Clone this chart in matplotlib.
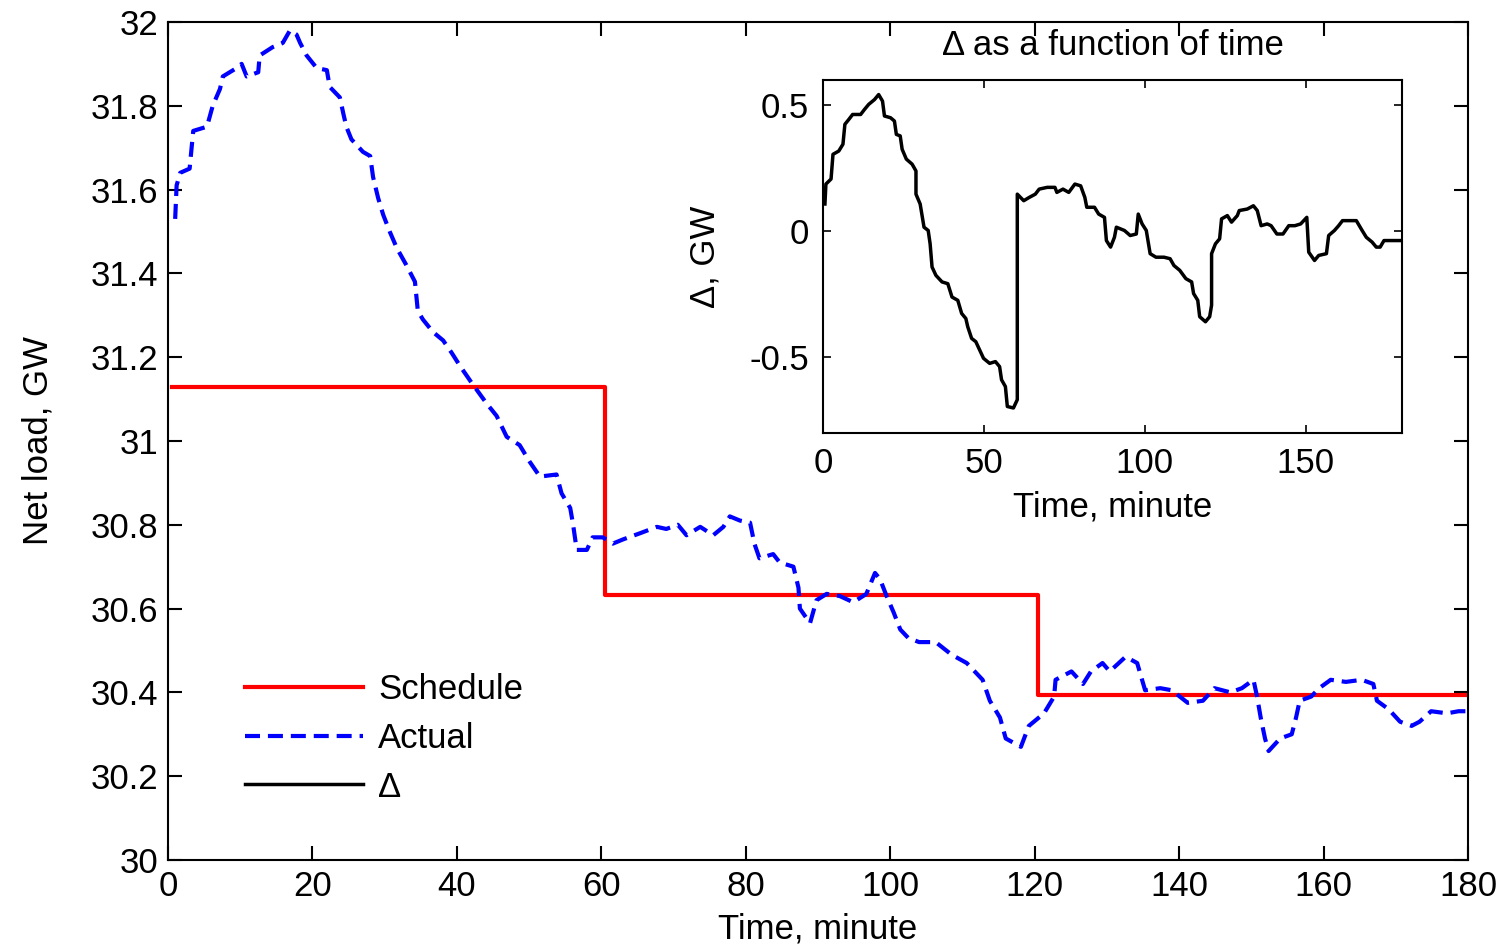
import matplotlib.pyplot as plt
from matplotlib.ticker import FormatStrFormatter

plt.rcParams['font.family'] = ['Liberation Sans', 'DejaVu Sans']

# Actual net load (GW)
t_actual = [1.0, 1.2, 1.7, 3.0, 3.5, 5.4, 6.2, 7.2, 7.6, 9.5, 10.2, 10.9, 12.5, 12.7,
            14.5, 15.9, 16.9, 17.8, 18.3, 19.2, 20.6, 22.0, 22.4, 23.8, 24.3, 24.7,
            25.4, 27.0, 28.0, 28.4, 29.1, 29.8, 30.7, 31.7, 33.0, 34.2, 34.6, 35.3,
            36.7, 38.1, 39.3, 40.4, 42.0, 44.1, 45.5, 46.9, 48.7, 50.1, 51.5, 53.8,
            54.5, 55.7, 56.1, 56.6, 58.0, 58.8, 60.2, 61.6, 63.0, 65.4, 67.7, 69.0,
            70.6, 71.8, 73.7, 75.5, 76.9, 77.8, 79.2, 80.6, 81.2, 81.9, 83.8, 84.7,
            86.6, 87.3, 87.5, 88.9, 89.8, 91.2, 93.0, 94.9, 96.7, 97.9, 98.6, 99.5,
            100.5, 101.4, 102.5, 104.0, 106.3, 108.5, 110.6, 112.8, 113.8, 115.2,
            116.0, 118.1, 119.2, 121.3, 122.7, 122.9, 125.1, 126.7, 127.8, 129.4,
            130.4, 132.6, 134.2, 135.3, 137.4, 139.0, 141.2, 143.3, 144.9, 147.1,
            148.7, 150.3, 150.8, 151.3, 151.9, 152.4, 154.0, 155.6, 156.2, 156.7,
            158.3, 159.4, 161.0, 163.1, 165.3, 166.9, 167.4, 169.0, 170.6, 172.2,
            173.3, 174.9, 177.1, 178.7, 180.0]
actual = [31.53, 31.61, 31.64, 31.65, 31.74, 31.75, 31.80, 31.84, 31.87, 31.89, 31.90,
          31.87, 31.88, 31.92, 31.94, 31.95, 31.98, 31.97, 31.95, 31.92, 31.89, 31.885,
          31.845, 31.82, 31.78, 31.75, 31.72, 31.69, 31.68, 31.63, 31.58, 31.54, 31.50,
          31.46, 31.42, 31.38, 31.31, 31.29, 31.26, 31.24, 31.21, 31.18, 31.14, 31.09,
          31.06, 31.01, 30.99, 30.95, 30.915, 30.92, 30.875, 30.84, 30.80, 30.74, 30.74,
          30.77, 30.77, 30.755, 30.765, 30.78, 30.795, 30.79, 30.80, 30.775, 30.795,
          30.775, 30.795, 30.82, 30.81, 30.805, 30.755, 30.72, 30.73, 30.71, 30.70,
          30.65, 30.60, 30.565, 30.62, 30.635, 30.63, 30.615, 30.635, 30.685, 30.67,
          30.63, 30.59, 30.55, 30.53, 30.52, 30.52, 30.49, 30.47, 30.43, 30.38, 30.34,
          30.29, 30.27, 30.32, 30.35, 30.39, 30.43, 30.45, 30.42, 30.45, 30.47, 30.45,
          30.485, 30.47, 30.405, 30.41, 30.405, 30.375, 30.38, 30.41, 30.40, 30.41,
          30.43, 30.39, 30.34, 30.29, 30.26, 30.29, 30.30, 30.34, 30.38, 30.39, 30.41,
          30.43, 30.425, 30.43, 30.42, 30.38, 30.36, 30.33, 30.32, 30.33, 30.355, 30.35,
          30.355, 30.355]

# Hourly schedule (GW)
t_sched = [0.5, 60.5, 60.5, 120.5, 120.5, 180.0]
schedule = [31.13, 31.13, 30.632, 30.632, 30.394, 30.394]

# Delta (GW) for the inset
t_delta = [0.6, 0.9, 2.5, 3.1, 4.9, 6.2, 6.8, 8.0, 9.2, 11.7, 12.9, 14.2, 16.0, 17.3,
           18.5, 19.1, 21.0, 22.2, 22.8, 24.0, 24.6, 25.9, 27.7, 28.9, 28.9, 30.2,
           31.4, 32.7, 33.3, 33.9, 35.1, 37.0, 38.8, 40.1, 41.9, 43.1, 44.4, 45.0,
           46.2, 47.5, 48.7, 49.9, 51.8, 53.6, 54.9, 55.5, 56.7, 57.3, 59.2, 60.4,
           60.4, 62.4, 64.1, 66.0, 67.2, 69.7, 72.1, 72.7, 74.6, 76.4, 78.3, 80.1,
           81.4, 82.0, 84.4, 85.7, 87.5, 88.1, 89.4, 90.6, 91.2, 93.7, 95.5, 97.4,
           98.0, 99.2, 100.5, 101.1, 101.7, 103.5, 106.0, 107.9, 109.1, 110.9, 112.8,
           114.6, 115.2, 116.5, 117.1, 118.9, 120.2, 120.8, 120.8, 122.0, 123.3, 123.9,
           125.7, 127.0, 128.8, 129.4, 131.9, 133.8, 135.0, 136.2, 138.1, 139.3, 141.1,
           143.0, 144.8, 146.7, 148.5, 150.4, 151.0, 152.8, 154.1, 156.5, 157.2, 159.0,
           160.3, 161.5, 163.9, 165.8, 167.6, 168.9, 170.7, 172.0, 173.2, 174.4, 175.6,
           180.0]
delta = [0.108, 0.187, 0.207, 0.305, 0.318, 0.345, 0.424, 0.443, 0.463, 0.463, 0.483,
         0.503, 0.522, 0.542, 0.516, 0.457, 0.450, 0.437, 0.384, 0.378, 0.325, 0.286,
         0.266, 0.239, 0.147, 0.108, 0.016, 0.003, -0.050, -0.142, -0.175, -0.201,
         -0.208, -0.261, -0.274, -0.326, -0.346, -0.379, -0.425, -0.438, -0.471, -0.504,
         -0.524, -0.517, -0.537, -0.589, -0.616, -0.695, -0.701, -0.668, 0.147, 0.121,
         0.134, 0.147, 0.167, 0.174, 0.174, 0.154, 0.167, 0.154, 0.187, 0.180, 0.134,
         0.095, 0.095, 0.068, 0.055, -0.037, -0.063, -0.024, 0.016, 0.003, -0.017,
         -0.011, 0.068, 0.029, 0.003, -0.043, -0.089, -0.103, -0.103, -0.109, -0.136,
         -0.155, -0.188, -0.201, -0.247, -0.274, -0.339, -0.359, -0.339, -0.293, -0.089,
         -0.050, -0.030, 0.049, 0.062, 0.036, 0.062, 0.082, 0.088, 0.101, 0.082, 0.022,
         0.029, 0.022, -0.011, -0.011, 0.022, 0.022, 0.029, 0.055, -0.083, -0.116,
         -0.096, -0.089, -0.017, 0.003, 0.022, 0.042, 0.042, 0.042, 0.003, -0.024,
         -0.043, -0.063, -0.063, -0.037, -0.037, -0.037]

main_yticks = [30, 30.2, 30.4, 30.6, 30.8, 31, 31.2, 31.4, 31.6, 31.8, 32]
main_xticks = [0, 20, 40, 60, 80, 100, 120, 140, 160, 180]
inset_xticks = [0, 50, 100, 150]
inset_yticks = [-0.5, 0, 0.5]

fs = 25

fig = plt.figure(figsize=(15.09, 9.47), dpi=100)
ax = fig.add_axes([0.1113, 0.0919, 0.8615, 0.8849])

l_sched, = ax.plot(t_sched, schedule, color='red', lw=3, label='Schedule')
l_act, = ax.plot(t_actual, actual, color='blue', lw=3, dashes=(3.6, 1.9), label='Actual')

ax.set_xlim(0, 180)
ax.set_ylim(30, 32)
ax.set_xticks(main_xticks)
ax.set_yticks(main_yticks)
ax.yaxis.set_major_formatter(FormatStrFormatter('%g'))
ax.tick_params(direction='in', length=10, width=1.5, top=True, right=True,
               labelsize=fs, pad=7)
for sp in ax.spines.values():
    sp.set_linewidth(1.5)
ax.set_xlabel('Time, minute', fontsize=fs, labelpad=7)
ax.set_ylabel('Net load, GW', fontsize=fs, labelpad=26)

# inset with delta
axi = fig.add_axes([0.5454, 0.5428, 0.3837, 0.3728])
l_delta, = axi.plot(t_delta, delta, color='black', lw=2.5, label='\u0394')
axi.set_xlim(0, 180)
axi.set_ylim(-0.8, 0.6)
axi.set_xticks(inset_xticks)
axi.set_yticks(inset_yticks)
axi.yaxis.set_major_formatter(FormatStrFormatter('%g'))
axi.tick_params(direction='in', length=6, width=1.2, top=True, right=True,
                labelsize=fs, pad=10)
for sp in axi.spines.values():
    sp.set_linewidth(1.5)
axi.set_title('\u0394 as a function of time', fontsize=fs, pad=18)
axi.set_xlabel('Time, minute', fontsize=fs, labelpad=8)
axi.set_ylabel('\u0394, GW', fontsize=fs, labelpad=20)

ax.legend(handles=[l_sched, l_act, l_delta], loc='lower left',
          bbox_to_anchor=(0.035, 0.03), frameon=False, fontsize=fs,
          handlelength=3.4, handletextpad=0.45, labelspacing=0.45)

fig.savefig('out.png', dpi=100)
